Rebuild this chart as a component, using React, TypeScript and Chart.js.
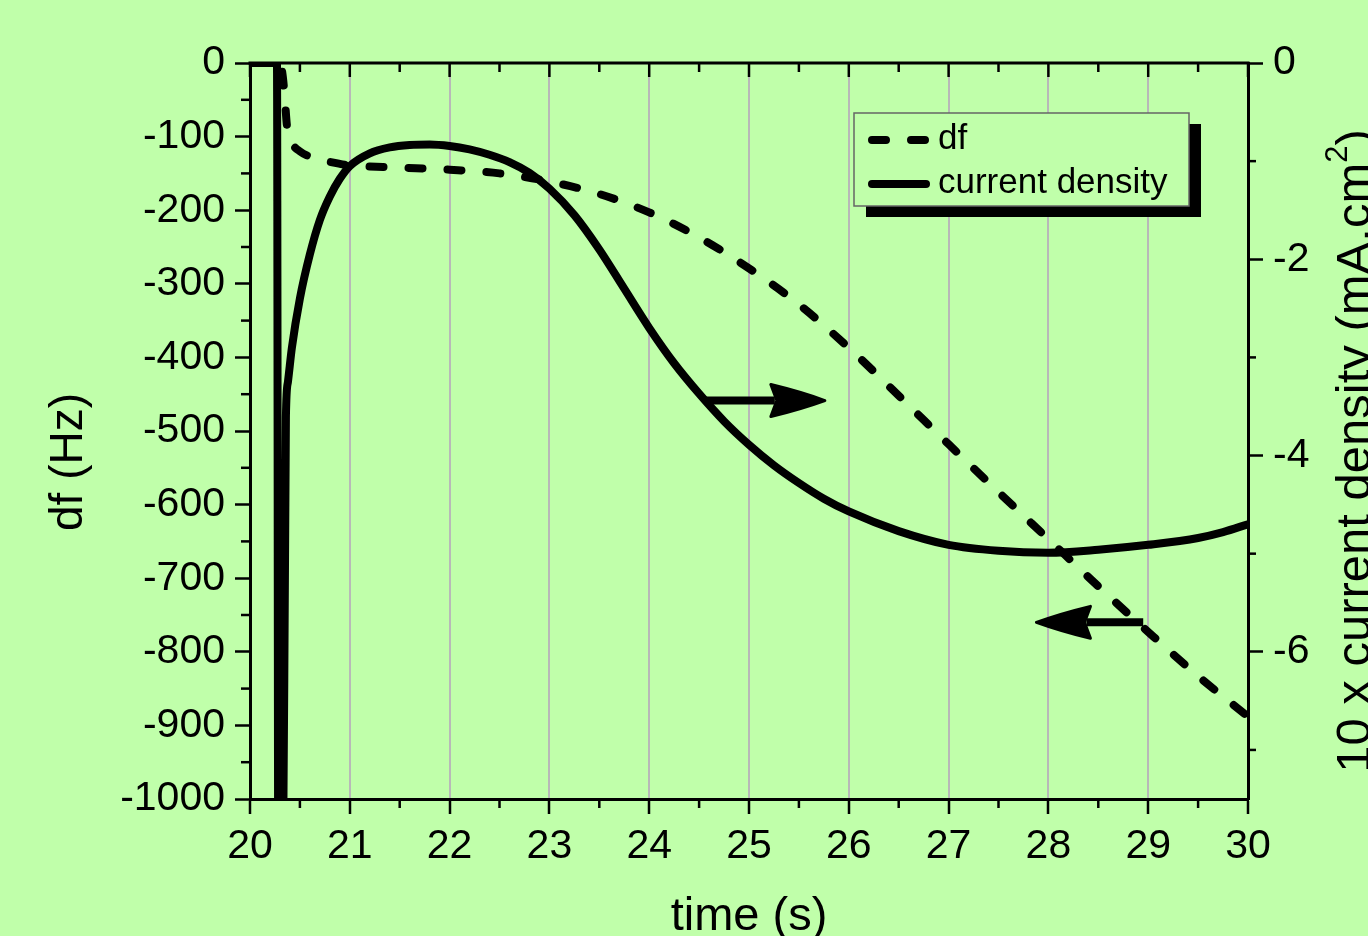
import { useEffect, useRef } from "react";
import { Chart, registerables } from "chart.js";

Chart.register(...registerables);

// ---------------- data ----------------
const dfTimes = [20.0, 20.3, 20.33, 20.35, 20.37, 20.42, 20.5, 20.7, 20.9, 21.0, 21.5, 22.0, 22.5, 23.0, 23.5, 24.0, 24.5, 25.0, 25.5, 26.0, 26.5, 27.0, 27.5, 28.0, 28.5, 29.0, 29.5, 30.0];
const dfValues = [0, 0, -20, -50, -85, -108, -120, -131, -137, -139, -142, -145, -150, -161, -178, -203, -237, -279, -328, -387, -452, -518, -583, -647, -711, -773, -833, -888];

const curTimes = [20.0, 20.27, 20.285, 20.325, 20.36, 20.38, 20.42, 20.5, 20.6, 20.7, 20.8, 20.9, 21.0, 21.2, 21.4, 21.6, 21.8, 22.0, 22.2, 22.4, 22.6, 22.8, 23.0, 23.25, 23.5, 23.75, 24.0, 24.25, 24.5, 24.75, 25.0, 25.25, 25.5, 25.75, 26.0, 26.5, 27.0, 27.5, 28.0, 28.5, 29.0, 29.5, 29.75, 30.0];
const curValues = [0, 0, -9, -9, -3.6, -3.25, -2.9, -2.4, -1.95, -1.6, -1.36, -1.18, -1.05, -0.92, -0.86, -0.835, -0.83, -0.845, -0.88, -0.935, -1.01, -1.12, -1.28, -1.55, -1.9, -2.3, -2.7, -3.06, -3.37, -3.65, -3.89, -4.1, -4.28, -4.44, -4.57, -4.77, -4.91, -4.97, -4.99, -4.96, -4.91, -4.84, -4.78, -4.7];

const seriesLabels = ["df", "current density"];

const xTicks = [20, 21, 22, 23, 24, 25, 26, 27, 28, 29, 30];
const xMinorTicks = [20.5, 21.5, 22.5, 23.5, 24.5, 25.5, 26.5, 27.5, 28.5, 29.5];
const leftTicks = [0, -100, -200, -300, -400, -500, -600, -700, -800, -900, -1000];
const leftMinorTicks = [-50, -150, -250, -350, -450, -550, -650, -750, -850, -950];
const rightTicks = [0, -2, -4, -6];
const rightMinorTicks = [-1, -3, -5, -7];

const xTitle = "time (s)";
const leftTitle = "df (Hz)";
const rightTitleMain = "10 x current density (mA.cm";
const rightTitleSup = "2";
const rightTitleEnd = ")";

// arrows: [start time, end time, value] ; right arrow on current axis, left arrow on df axis
const arrowToRight = [24.57, 25.76, -3.44];
const arrowToLeft = [28.95, 27.88, -760];

// ---------------- styles ----------------
const BG = "#c0ffaa";
const FONT = "'Liberation Sans', Arial, sans-serif";

function line(ctx: CanvasRenderingContext2D, x1: number, y1: number, x2: number, y2: number) {
  ctx.beginPath();
  ctx.moveTo(x1, y1);
  ctx.lineTo(x2, y2);
  ctx.stroke();
}

function drawArrow(ctx: CanvasRenderingContext2D, x1: number, x2: number, yy: number) {
  const dir = x2 > x1 ? 1 : -1;
  const headLen = 54;
  const headHalf = 16;
  const baseX = x2 - dir * headLen;
  ctx.save();
  ctx.strokeStyle = "#000";
  ctx.fillStyle = "#000";
  ctx.lineWidth = 8;
  ctx.lineCap = "butt";
  line(ctx, x1, yy, baseX + dir * 4, yy);
  ctx.beginPath();
  ctx.moveTo(x2, yy);
  ctx.quadraticCurveTo(x2 - dir * headLen * 0.45, yy - headHalf * 0.55, baseX, yy - headHalf);
  ctx.lineTo(baseX + dir * 6, yy);
  ctx.lineTo(baseX, yy + headHalf);
  ctx.quadraticCurveTo(x2 - dir * headLen * 0.45, yy + headHalf * 0.55, x2, yy);
  ctx.closePath();
  ctx.lineJoin = "round";
  ctx.lineWidth = 3;
  ctx.fill();
  ctx.stroke();
  ctx.restore();
}

const decorPlugin = {
  id: "decor",
  beforeDraw(chart: any) {
    const ctx = chart.ctx as CanvasRenderingContext2D;
    ctx.save();
    ctx.fillStyle = BG;
    ctx.fillRect(0, 0, chart.width, chart.height);
    ctx.restore();
  },
  afterDatasetsDraw(chart: any) {
    const ctx = chart.ctx as CanvasRenderingContext2D;
    const { x, y, y2 } = chart.scales;
    drawArrow(ctx, x.getPixelForValue(arrowToRight[0]), x.getPixelForValue(arrowToRight[1]), y2.getPixelForValue(arrowToRight[2]));
    drawArrow(ctx, x.getPixelForValue(arrowToLeft[0]), x.getPixelForValue(arrowToLeft[1]), y.getPixelForValue(arrowToLeft[2]));
  },
  afterDraw(chart: any) {
    const ctx = chart.ctx as CanvasRenderingContext2D;
    const { x, y, y2 } = chart.scales;
    const { left, right, top, bottom } = chart.chartArea;
    ctx.save();
    ctx.strokeStyle = "#000";
    // top border
    ctx.lineWidth = 3;
    line(ctx, left - 1.5, top, right + 1.5, top);
    ctx.lineWidth = 2.5;
    leftMinorTicks.forEach((v) => {
      const py = y.getPixelForValue(v);
      line(ctx, left - 9, py, left, py);
    });
    rightMinorTicks.forEach((v) => {
      const py = y2.getPixelForValue(v);
      line(ctx, right, py, right + 8, py);
    });
    xMinorTicks.forEach((v) => {
      const px = x.getPixelForValue(v);
      line(ctx, px, bottom, px, bottom + 9);
      line(ctx, px, top, px, top + 9);
    });
    xTicks.forEach((v) => {
      const px = x.getPixelForValue(v);
      line(ctx, px, top, px, top + 14);
    });

    // legend
    const lx = 854, ly = 113, lw = 335, lh = 93;
    ctx.fillStyle = "#000";
    ctx.fillRect(lx + 12, ly + 11, lw, lh);
    ctx.fillStyle = BG;
    ctx.fillRect(lx, ly, lw, lh);
    ctx.strokeStyle = "#666";
    ctx.lineWidth = 1.5;
    ctx.strokeRect(lx, ly, lw, lh);
    ctx.strokeStyle = "#000";
    ctx.lineWidth = 8;
    ctx.lineCap = "round";
    ctx.setLineDash([14, 25]);
    line(ctx, 872, 140, 926, 140);
    ctx.setLineDash([]);
    line(ctx, 872, 184, 926, 184);
    ctx.fillStyle = "#000";
    ctx.font = `35px ${FONT}`;
    ctx.textAlign = "left";
    ctx.textBaseline = "middle";
    ctx.fillText(seriesLabels[0], 938, 139);
    ctx.fillText(seriesLabels[1], 938, 183);

    // axis titles
    ctx.font = `47px ${FONT}`;
    ctx.textAlign = "center";
    ctx.textBaseline = "alphabetic";
    ctx.fillText(xTitle, (left + right) / 2, 930);

    ctx.save();
    ctx.translate(82, 462);
    ctx.rotate(-Math.PI / 2);
    ctx.font = `46px ${FONT}`;
    ctx.fillText(leftTitle, 0, 0);
    ctx.restore();

    ctx.save();
    ctx.translate(1370, 451);
    ctx.rotate(-Math.PI / 2);
    const big = `49px ${FONT}`;
    const small = `31px ${FONT}`;
    ctx.font = big;
    const w1 = ctx.measureText(rightTitleMain).width;
    ctx.font = small;
    const w2 = ctx.measureText(rightTitleSup).width;
    ctx.font = big;
    const w3 = ctx.measureText(rightTitleEnd).width;
    const total = w1 + w2 + w3;
    let cx = -total / 2;
    ctx.textAlign = "left";
    ctx.fillText(rightTitleMain, cx, 0);
    cx += w1;
    ctx.font = small;
    ctx.fillText(rightTitleSup, cx, -23);
    cx += w2;
    ctx.font = big;
    ctx.fillText(rightTitleEnd, cx, 0);
    ctx.restore();

    ctx.restore();
  },
};

export default function App() {
  const ref = useRef<HTMLCanvasElement | null>(null);

  useEffect(() => {
    if (!ref.current) return;
    const tickFont = { family: FONT, size: 41 };
    const plain = (v: any) => String(v);
    const chart = new Chart(ref.current, {
      type: "line",
      data: {
        datasets: [
          {
            label: seriesLabels[0],
            data: dfTimes.map((t, i) => ({ x: t, y: dfValues[i] })),
            yAxisID: "y",
            borderColor: "#000",
            borderWidth: 8,
            borderDash: [14, 25],
            borderCapStyle: "round",
            pointRadius: 0,
            fill: false,
            cubicInterpolationMode: "monotone",
            clip: 0,
          },
          {
            label: seriesLabels[1],
            data: curTimes.map((t, i) => ({ x: t, y: curValues[i] })),
            yAxisID: "y2",
            borderColor: "#000",
            borderWidth: 8,
            borderCapStyle: "round",
            pointRadius: 0,
            fill: false,
            cubicInterpolationMode: "monotone",
            clip: 0,
          },
        ],
      },
      options: {
        animation: false,
        responsive: false,
        devicePixelRatio: 1,
        layout: { padding: { top: 63, left: 0, right: 0, bottom: 0 } },
        plugins: { legend: { display: false }, tooltip: { enabled: false } },
        scales: {
          x: {
            type: "linear",
            position: "bottom",
            min: 20,
            max: 30,
            afterBuildTicks: (s: any) => {
              s.ticks = xTicks.map((v) => ({ value: v }));
            },
            afterFit: (s: any) => {
              s.height = 137;
            },
            grid: {
              color: (c: any) => (c.tick && (c.tick.value === 20 || c.tick.value === 30) ? "rgba(0,0,0,0)" : "#b8b8b8"),
              lineWidth: 2,
              tickColor: "#000",
              tickLength: 15,
              tickWidth: 2.5,
            },
            border: { display: true, color: "#000", width: 3 },
            ticks: { font: tickFont, color: "#000", padding: 8, maxRotation: 0, autoSkip: false, callback: plain },
          },
          y: {
            type: "linear",
            position: "left",
            min: -1000,
            max: 0,
            afterBuildTicks: (s: any) => {
              s.ticks = leftTicks.map((v) => ({ value: v }));
            },
            afterFit: (s: any) => {
              s.width = 250;
            },
            grid: { drawOnChartArea: false, tickColor: "#000", tickLength: 15, tickWidth: 2.5 },
            border: { display: true, color: "#000", width: 3 },
            ticks: { font: tickFont, color: "#000", padding: 10, callback: plain },
          },
          y2: {
            type: "linear",
            position: "right",
            min: -7.5,
            max: 0,
            afterBuildTicks: (s: any) => {
              s.ticks = rightTicks.map((v) => ({ value: v }));
            },
            afterFit: (s: any) => {
              s.width = 120;
            },
            grid: { drawOnChartArea: false, tickColor: "#000", tickLength: 15, tickWidth: 2.5 },
            border: { display: true, color: "#000", width: 3 },
            ticks: { font: tickFont, color: "#000", padding: 10, callback: plain },
          },
        },
      } as any,
      plugins: [decorPlugin],
    });
    return () => chart.destroy();
  }, []);

  return (
    <div style={{ position: "fixed", left: 0, top: 0, width: 1368, height: 936, background: BG }}>
      <canvas ref={ref} width={1368} height={936} style={{ width: 1368, height: 936, display: "block" }} />
    </div>
  );
}
